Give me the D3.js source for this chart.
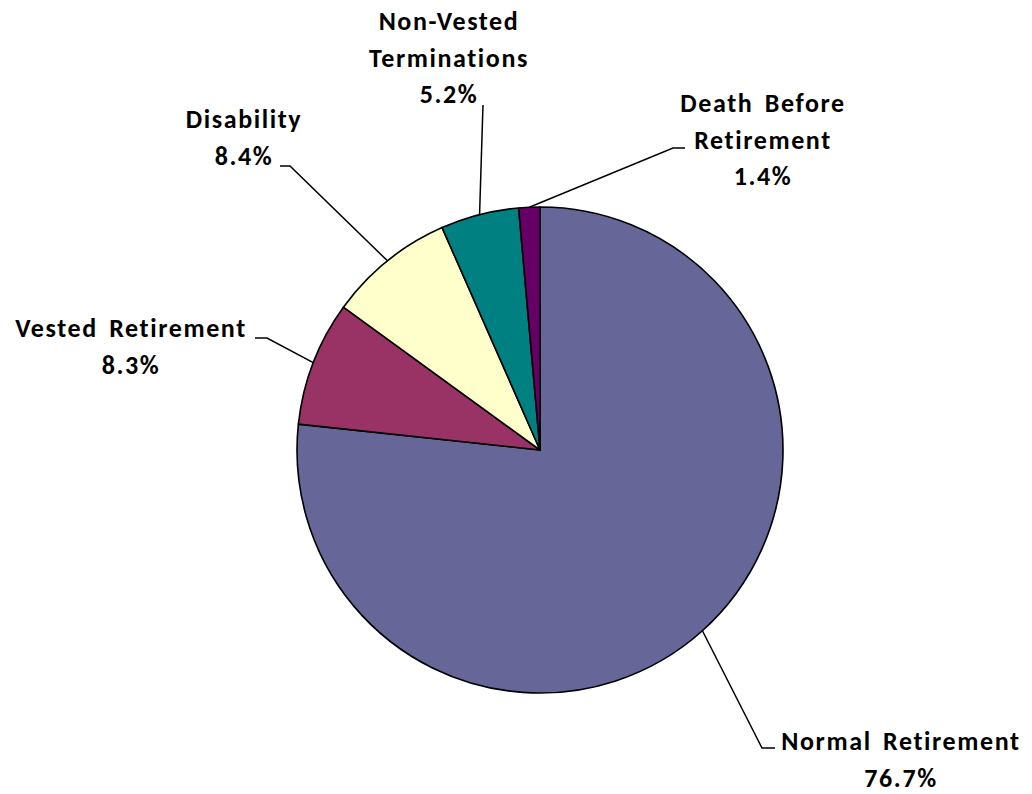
<!DOCTYPE html>
<html>
<head>
<meta charset="utf-8">
<script src="https://cdn.jsdelivr.net/npm/d3@7"></script>
<style>
  body { margin: 0; background: #fff; }
  .lbl { font-family: Carlito, Lato, "Liberation Sans", sans-serif; font-weight: 900; font-size: 26px; letter-spacing: 1.6px; word-spacing: 4px; fill: #000; }
</style>
</head>
<body>
<svg id="chart" width="1032" height="794"></svg>
<script>
const categories = ['Normal Retirement', 'Vested Retirement', 'Disability', 'Non-Vested Terminations', 'Death Before Retirement'];
const values = [76.7, 8.3, 8.4, 5.2, 1.4];
const colors = ['#666699', '#993366', '#FFFFCC', '#008080', '#660066'];

// label text lines (category wrapped like the original)
const labelLines = [
  ['Normal Retirement'],
  ['Vested Retirement'],
  ['Disability'],
  ['Non-Vested', 'Terminations'],
  ['Death Before', 'Retirement']
];

// label layout: text center x, first baseline y, leader elbow points
const layout = [
  {x: 901, y: 750, pts: [[762, 748], [775, 748]]},
  {x: 131, y: 337, pts: [[267, 338], [255, 338]]},
  {x: 244, y: 128, pts: [[290, 166], [280, 166]]},
  {x: 449, y: 30,  pts: [[483, 105]]},
  {x: 763, y: 112, pts: [[673, 148], [685, 148]]}
];

const cx = 540, cy = 450, r = 243;
const lineH = 36.5;

const svg = d3.select('#chart');
const g = svg.append('g').attr('transform', `translate(${cx},${cy})`);

const pie = d3.pie().sort(null).value(d => d)(values);
const arc = d3.arc().innerRadius(0).outerRadius(r);

g.selectAll('path.slice')
  .data(pie)
  .enter()
  .append('path')
  .attr('class', 'slice')
  .attr('d', arc)
  .attr('fill', (d, i) => colors[i])
  .attr('stroke', '#000')
  .attr('stroke-width', 1.6)
  .attr('stroke-linejoin', 'round');

//leader lines
pie.forEach(function(d, i) {
  const a = (d.startAngle + d.endAngle) / 2;
  const start = [cx + r * Math.sin(a), cy - r * Math.cos(a)];
  const pts = [start].concat(layout[i].pts);
  svg.append('path')
    .attr('d', d3.line()(pts))
    .attr('fill', 'none')
    .attr('stroke', '#000')
    .attr('stroke-width', 1.5);
});

//labels
categories.forEach(function(c, i) {
  const lines = labelLines[i].concat([d3.format('.1f')(values[i]) + '%']);
  const t = svg.append('text')
    .attr('class', 'lbl')
    .attr('text-anchor', 'middle');
  lines.forEach(function(s, j) {
    t.append('tspan')
      .attr('x', layout[i].x)
      .attr('y', layout[i].y + j * lineH)
      .text(s);
  });
});
</script>
</body>
</html>
